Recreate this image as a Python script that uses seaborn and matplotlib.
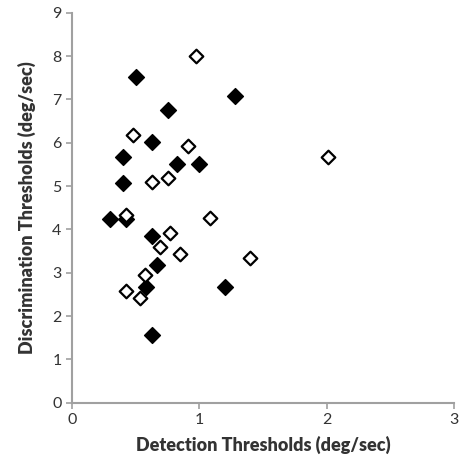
import pandas as pd
import matplotlib
matplotlib.use("Agg")
import matplotlib.pyplot as plt
import seaborn as sns

# filled diamonds
filled_x = [0.50, 1.28, 0.75, 0.63, 0.40, 0.82, 1.00, 0.40, 0.30, 0.42, 0.63, 0.67, 0.58, 1.20, 0.63]
filled_y = [7.51, 7.08, 6.75, 6.01, 5.68, 5.51, 5.51, 5.06, 4.25, 4.25, 3.85, 3.17, 2.66, 2.66, 1.57]

# open diamonds
open_x = [0.97, 0.48, 0.91, 0.63, 0.75, 2.01, 1.40, 0.42, 1.08, 0.77, 0.69, 0.85, 0.57, 0.42, 0.53]
open_y = [8.01, 6.18, 5.93, 5.09, 5.18, 5.68, 3.33, 4.33, 4.26, 3.92, 3.59, 3.43, 2.95, 2.58, 2.42]

x_ticks = [0, 1, 2, 3]
y_ticks = list(range(10))


def main():
    sns.set_style("white")
    plt.rcParams["font.family"] = ["Lato", "DejaVu Sans"]

    df_f = pd.DataFrame({"x": filled_x, "y": filled_y})
    df_o = pd.DataFrame({"x": open_x, "y": open_y})

    fig = plt.figure(figsize=(4.62, 4.70), dpi=100)
    ax = fig.add_axes([0.156, 0.143, 0.827, 0.83])

    sns.scatterplot(data=df_f, x="x", y="y", marker="D", s=65, color="black",
                    edgecolor="black", linewidth=1.0, ax=ax, zorder=3)
    sns.scatterplot(data=df_o, x="x", y="y", marker="D", s=48, color="white",
                    edgecolor="black", linewidth=1.6, ax=ax, zorder=3)

    ax.set_xlim(0, 3)
    ax.set_ylim(0, 9)
    ax.set_xticks(x_ticks)
    ax.set_yticks(y_ticks)
    ax.tick_params(axis="both", direction="out", length=4, width=1.2,
                   color="#a0a0a0", labelsize=11.5, labelcolor="#333333",
                   left=True, bottom=True)
    for side in ["top", "right"]:
        ax.spines[side].set_visible(False)
    for side in ["left", "bottom"]:
        ax.spines[side].set_color("#a0a0a0")
        ax.spines[side].set_linewidth(1.5)

    ax.set_xlabel("Detection Thresholds (deg/sec)", fontsize=13, fontweight="heavy",
                  color="#333333", labelpad=6)
    ax.set_ylabel("Discrimination Thresholds (deg/sec)", fontsize=13, fontweight="heavy",
                  color="#333333", labelpad=12)

    fig.savefig("out.png", dpi=100)


if __name__ == "__main__":
    main()
